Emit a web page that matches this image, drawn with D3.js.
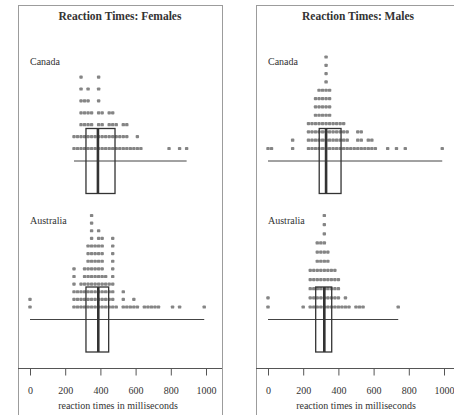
<!DOCTYPE html>
<html>
<head>
<meta charset="utf-8">
<script src="https://cdn.jsdelivr.net/npm/d3@7"></script>
<style>
body { margin: 0; background: #fff; }
svg { display: block; font-family: "Liberation Serif", "Times New Roman", serif; }
</style>
</head>
<body>
<svg id="chart" width="454" height="415"></svg>
<script>
// chart data
const panelTitles = ["Reaction Times: Females", "Reaction Times: Males"];
const countries = ["Canada", "Australia"];
const axisTicks = [0, 200, 400, 600, 800, 1000];
const axisTitle = "reaction times in milliseconds";

// stacked dot columns: reaction time (ms) and how many dots at it
const canadaFemaleValues = [250, 270, 290, 310, 330, 350, 370, 390, 410, 430, 450, 470, 490, 510, 530, 550, 570, 590, 610, 630, 790, 850, 890];
const canadaFemaleCounts = [2, 2, 7, 5, 6, 4, 2, 7, 4, 2, 4, 4, 3, 2, 3, 3, 1, 1, 2, 1, 1, 1, 1];
const australiaFemaleValues = [0, 250, 270, 290, 310, 330, 350, 370, 390, 410, 430, 450, 470, 490, 530, 550, 570, 590, 610, 650, 670, 690, 710, 730, 810, 850, 990];
const australiaFemaleCounts = [2, 6, 3, 4, 6, 9, 13, 9, 11, 10, 5, 4, 10, 1, 3, 1, 1, 2, 1, 1, 1, 1, 1, 1, 1, 1, 1];
const canadaMaleValues = [0, 20, 140, 230, 250, 270, 290, 310, 330, 350, 370, 390, 410, 430, 450, 470, 490, 510, 530, 550, 570, 590, 610, 680, 730, 780, 990];
const canadaMaleCounts = [1, 1, 2, 4, 4, 7, 8, 8, 12, 8, 4, 4, 4, 4, 3, 1, 1, 3, 3, 1, 2, 2, 1, 1, 1, 1, 1];
const australiaMaleValues = [0, 200, 240, 260, 280, 300, 320, 340, 360, 380, 400, 420, 440, 460, 500, 520, 540, 740];
const australiaMaleCounts = [2, 1, 5, 5, 8, 8, 11, 7, 5, 5, 4, 1, 2, 1, 1, 1, 1, 1];

// box stats: [lower quartile, median, upper quartile]
const canadaFemaleBox = [318, 386, 483];
const australiaFemaleBox = [318, 388, 447];
const canadaMaleBox = [291, 330, 415];
const australiaMaleBox = [271, 320, 362];

const svg = d3.select("#chart");
const ink = "#333", dotFill = "#858585", frame = "#9c9c9c";

const panels = [
  { left: 18, right: 222, range: [30, 206], title: panelTitles[0],
    groups: [[canadaFemaleValues, canadaFemaleCounts, canadaFemaleBox], [australiaFemaleValues, australiaFemaleCounts, australiaFemaleBox]] },
  { left: 256, right: 460, range: [268, 444], title: panelTitles[1],
    groups: [[canadaMaleValues, canadaMaleCounts, canadaMaleBox], [australiaMaleValues, australiaMaleCounts, australiaMaleBox]] }
];
const lineY = [161, 319.5], labelY = [64.5, 223.5];
const axisY = 368;

panels.forEach(p => {
  const x = d3.scaleLinear().domain([0, 1000]).range(p.range);
  const g = svg.append("g");

  g.append("rect").attr("x", p.left + 0.5).attr("y", 5.5)
    .attr("width", p.right - p.left).attr("height", 430)
    .attr("fill", "none").attr("stroke", frame).attr("stroke-width", 1);

  g.append("text").attr("x", (p.left + p.right) / 2).attr("y", 20)
    .attr("text-anchor", "middle").attr("font-weight", "bold").attr("font-size", 11.5)
    .attr("fill", ink).text(p.title);

  p.groups.forEach((grp, i) => {
    const [vals, counts, box] = grp;
    const ly = lineY[i];
    const maxC = d3.max(counts);
    const step = Math.min(11.9, 91.5 / (maxC - 1));
    const y = d3.scaleLinear().domain([0, maxC - 1]).range([ly - 12.5, ly - 12.5 - (maxC - 1) * step]);

    const dots = [];
    vals.forEach((v, j) => { for (let k = 0; k < counts[j]; k++) dots.push([v, k]); });

    g.append("text").attr("x", x(0)).attr("y", labelY[i])
      .attr("font-size", 10).attr("fill", ink).text(countries[i]);

    g.append("g").selectAll("rect").data(dots).enter().append("rect")
      .attr("x", d => x(d[0]) - 1.7).attr("y", d => y(d[1]) - 1.6)
      .attr("width", 3.4).attr("height", 3.2).attr("rx", 0.9)
      .attr("fill", dotFill);

    g.append("line").attr("x1", x(d3.min(vals))).attr("x2", x(d3.max(vals)))
      .attr("y1", ly).attr("y2", ly).attr("stroke", "#444").attr("stroke-width", 1);

    g.append("rect").attr("x", x(box[0])).attr("y", ly - 32.5)
      .attr("width", x(box[2]) - x(box[0])).attr("height", 65)
      .attr("fill", "none").attr("stroke", ink).attr("stroke-width", 1.3);
    g.append("line").attr("x1", x(box[1])).attr("x2", x(box[1]))
      .attr("y1", ly - 32.5).attr("y2", ly + 32.5)
      .attr("stroke", ink).attr("stroke-width", 2.6);
  });

  g.append("line").attr("x1", p.left).attr("x2", p.right).attr("y1", axisY + 0.5).attr("y2", axisY + 0.5)
    .attr("stroke", "#555").attr("stroke-width", 1);

  const ax = g.append("g").attr("transform", "translate(0," + (axisY + 0.5) + ")")
    .call(d3.axisBottom(x).tickValues(axisTicks).tickFormat(d3.format("d")).tickSize(7).tickPadding(11.5));
  ax.select(".domain").remove();
  ax.selectAll(".tick line").attr("stroke", "#555");
  ax.selectAll(".tick text").attr("font-size", 10).attr("fill", ink)
    .attr("font-family", "Liberation Serif, Times New Roman, serif");

  g.append("text").attr("x", (p.range[0] + p.range[1]) / 2).attr("y", 408.5)
    .attr("text-anchor", "middle").attr("font-size", 10).attr("fill", ink).text(axisTitle);
});
</script>
</body>
</html>
